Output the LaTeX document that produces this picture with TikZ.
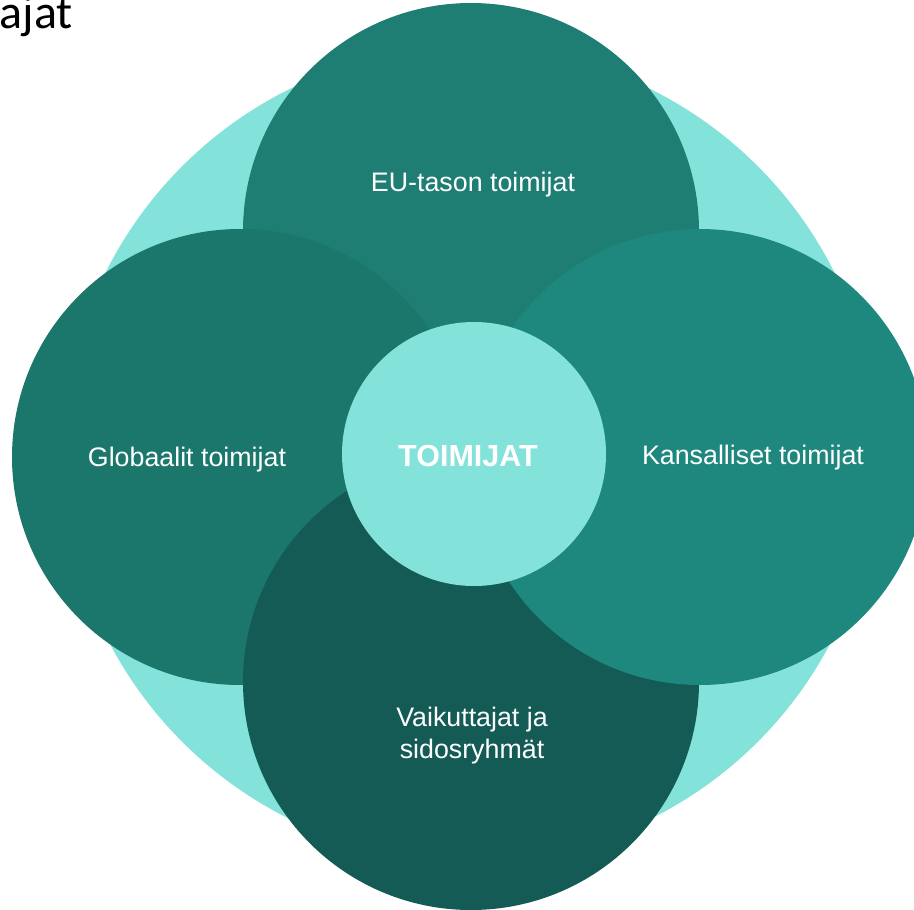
\documentclass[tikz,border=0pt]{standalone}
\usepackage{fontspec}
\setmainfont{Liberation Sans}
\newfontfamily\titlefont{Carlito}
\definecolor{lightc}{HTML}{83E2D9}
\definecolor{topc}{HTML}{1E7E74}
\definecolor{leftc}{HTML}{1B766C}
\definecolor{rightc}{HTML}{1F887E}
\definecolor{botc}{HTML}{145B55}
\tikzset{
  blob/.style={circle, inner sep=0pt, outer sep=0pt, draw=none},
  lbl/.style={text=white, font=\fontsize{26.8}{32}\selectfont, align=center, inner sep=0pt},
}
\begin{document}
\begin{tikzpicture}[x=1pt,y=-1pt]
\useasboundingbox (0,0) rectangle (914,910);
\clip (0,0) rectangle (914,910);
\node[blob, fill=lightc, minimum size=814pt] (outer) at (470,454) {};
\node[blob, fill=topc, minimum size=456pt] (eu) at (471,231) {};
\node[blob, fill=leftc, minimum size=456pt] (glob) at (240,457) {};
\node[blob, fill=botc, minimum size=456pt] (vaik) at (471,682) {};
\node[blob, fill=rightc, minimum size=456pt] (kans) at (700,457) {};
\node[blob, fill=lightc, minimum size=264pt] (core) at (474,454) {};
\node[lbl] (eutxt) at (473,185) {EU-tason toimijat};
\node[lbl] (globtxt) at (187,460) {Globaalit toimijat};
\node[lbl] (kanstxt) at (753,458) {Kansalliset toimijat};
\node[lbl] (vaiktxt) at (472,736) {Vaikuttajat ja\\sidosryhmät};
\node[text=white, font=\bfseries\fontsize{30.5}{34}\selectfont, inner sep=0pt] (coretxt) at (468,456) {TOIMIJAT};
\node[anchor=base east, font=\titlefont\fontsize{48}{54}\selectfont, inner sep=0pt] (title) at (73,28) {ajat};
\end{tikzpicture}
\end{document}
